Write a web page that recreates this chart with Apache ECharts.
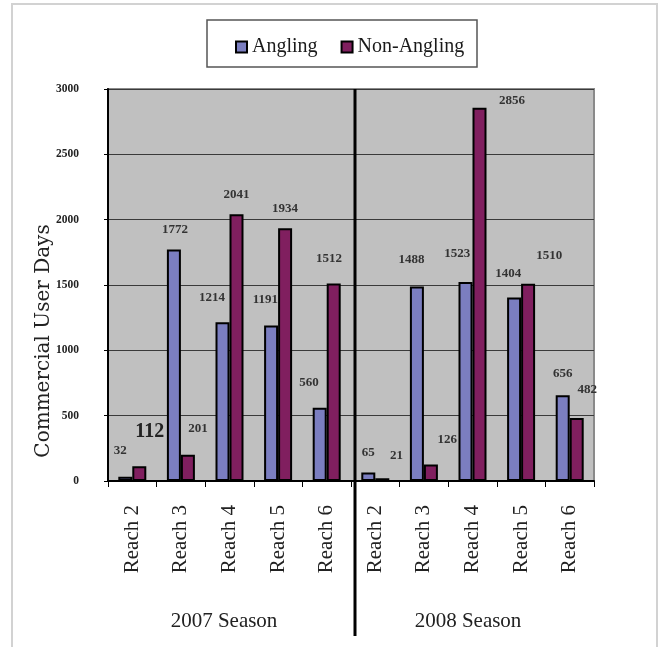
<!DOCTYPE html>
<html>
<head>
<meta charset="utf-8">
<title>Commercial User Days by Reach</title>
<script src="https://cdn.jsdelivr.net/npm/echarts@6/dist/echarts.min.js"></script>
<style>
  html, body { margin: 0; padding: 0; background: #ffffff; }
  #chart { width: 662px; height: 647px; }
</style>
</head>
<body>
<div id="chart"></div>
<script>
// Reaches surveyed in each season
const reaches = ['Reach 2', 'Reach 3', 'Reach 4', 'Reach 5', 'Reach 6'];
const seasons = ['2007 Season', '2008 Season'];

// Commercial user days, 2007 then 2008
const angling2007 = [32, 1772, 1214, 1191, 560];
const angling2008 = [65, 1488, 1523, 1404, 656];
const nonAngling2007 = [112, 201, 2041, 1934, 1512];
const nonAngling2008 = [21, 126, 2856, 1510, 482];

// Value axis ticks
const yTicks = [0, 500, 1000, 1500, 2000, 2500, 3000];

// Hand-placed label nudges [dx, dy] (label centre relative to bar top centre)
const anglingLabelShift = [[-5, -26], [1, -20], [-10.5, -25], [-5.7, -26], [-10.7, -25.5],
                           [0, -20], [-5.3, -26.6], [-8.2, -28.7], [-5.8, -24], [0, -21.3]];
const nonAnglingLabelShift = [[10.4, -34.4], [10, -26.4], [0, -20], [0, -19.3], [-4.7, -25],
                              [14.3, -22.6], [16.3, -24.5], [32.5, -6.8], [21.2, -28], [10.6, -28.7]];

const SERIF = '"Liberation Serif", "Times New Roman", serif';
const LABEL_SIZE = 13;

// One axis category per season/reach pair
const axisData = [];
seasons.forEach(s => reaches.forEach(r => axisData.push(s + '|' + r)));

function buildData(values, shifts, bigIndex) {
  return values.map((v, i) => {
    const size = i === bigIndex ? 20 : LABEL_SIZE;
    return {
      value: v,
      label: {
        fontSize: size,
        lineHeight: size,
        color: i === bigIndex ? '#222' : '#333',
        offset: [shifts[i][0], shifts[i][1] + size / 2]
      }
    };
  });
}

const anglingValues = angling2007.concat(angling2008);
const nonAnglingValues = nonAngling2007.concat(nonAngling2008);

const chart = echarts.init(document.getElementById('chart'), null, { renderer: 'canvas' });

const barLabel = {
  show: true,
  position: 'top',
  distance: 0,
  fontFamily: SERIF,
  fontWeight: 'bold',
  fontSize: LABEL_SIZE,
  color: '#333',
  formatter: '{c}'
};

chart.setOption({
  animation: false,
  backgroundColor: '#ffffff',
  grid: {
    left: 108, top: 89, right: 68, bottom: 166,
    show: true,
    backgroundColor: '#c0c0c0',
    borderColor: '#8a8a8a',
    borderWidth: 2
  },
  legend: {
    data: ['Angling', 'Non-Angling'],
    left: 230,
    top: 32,
    icon: 'rect',
    itemWidth: 11,
    itemHeight: 11,
    itemGap: 23,
    itemStyle: { borderColor: '#000', borderWidth: 2 },
    textStyle: { fontFamily: SERIF, fontSize: 20, color: '#1a1a1a' }
  },
  xAxis: {
    type: 'category',
    data: axisData,
    axisLine: { show: true, lineStyle: { color: '#000', width: 2 } },
    axisTick: { show: true, interval: 0, length: 6, lineStyle: { color: '#000', width: 1 } },
    axisLabel: {
      interval: 0,
      rotate: 90,
      margin: 24,
      fontFamily: SERIF,
      fontSize: 21,
      color: '#222',
      formatter: v => v.split('|')[1]
    },
    splitLine: { show: false }
  },
  yAxis: {
    type: 'value',
    min: yTicks[0],
    max: yTicks[yTicks.length - 1],
    interval: yTicks[1] - yTicks[0],
    axisLine: { show: true, lineStyle: { color: '#000', width: 2 } },
    axisTick: { show: true, length: 4, lineStyle: { color: '#000', width: 1 } },
    axisLabel: {
      margin: 29,
      fontFamily: SERIF,
      fontWeight: 'bold',
      fontSize: 11.5,
      color: '#222',
      formatter: v => String(v)
    },
    splitLine: { show: true, lineStyle: { color: '#3a3a3a', width: 1 } }
  },
  series: [
    {
      name: 'Angling',
      type: 'bar',
      barWidth: 14,
      barGap: '0%',
      itemStyle: { color: '#7b7ec0', borderColor: '#000', borderWidth: 2 },
      label: barLabel,
      data: buildData(anglingValues, anglingLabelShift, -1)
    },
    {
      name: 'Non-Angling',
      type: 'bar',
      barWidth: 14,
      barGap: '0%',
      itemStyle: { color: '#801f5f', borderColor: '#000', borderWidth: 2 },
      label: barLabel,
      data: buildData(nonAnglingValues, nonAnglingLabelShift, 0)
    }
  ],
  graphic: [
    // outer frame
    {
      type: 'rect', z: -10,
      shape: { x: 12, y: 4, width: 645, height: 700 },
      style: { fill: 'none', stroke: '#d2d2d2', lineWidth: 2 }
    },
    // legend box
    {
      type: 'rect', z: 5,
      shape: { x: 207, y: 20, width: 270, height: 47 },
      style: { fill: 'none', stroke: '#555', lineWidth: 1.5 }
    },
    // season divider
    {
      type: 'line', z: 100,
      shape: { x1: 355, y1: 89, x2: 355, y2: 636 },
      style: { stroke: '#000', lineWidth: 3 }
    },
    // season captions
    {
      type: 'text', x: 224, y: 621,
      style: { text: seasons[0], font: '21px ' + SERIF, fill: '#222', align: 'center', verticalAlign: 'middle' }
    },
    {
      type: 'text', x: 468, y: 621,
      style: { text: seasons[1], font: '21px ' + SERIF, fill: '#222', align: 'center', verticalAlign: 'middle' }
    },
    // value axis title
    {
      type: 'text', x: 44, y: 341, rotation: Math.PI / 2,
      style: { text: 'Commercial User Days', font: '20px "DejaVu Serif", serif', fill: '#222', align: 'center', verticalAlign: 'middle' }
    }
  ]
});
</script>
</body>
</html>
